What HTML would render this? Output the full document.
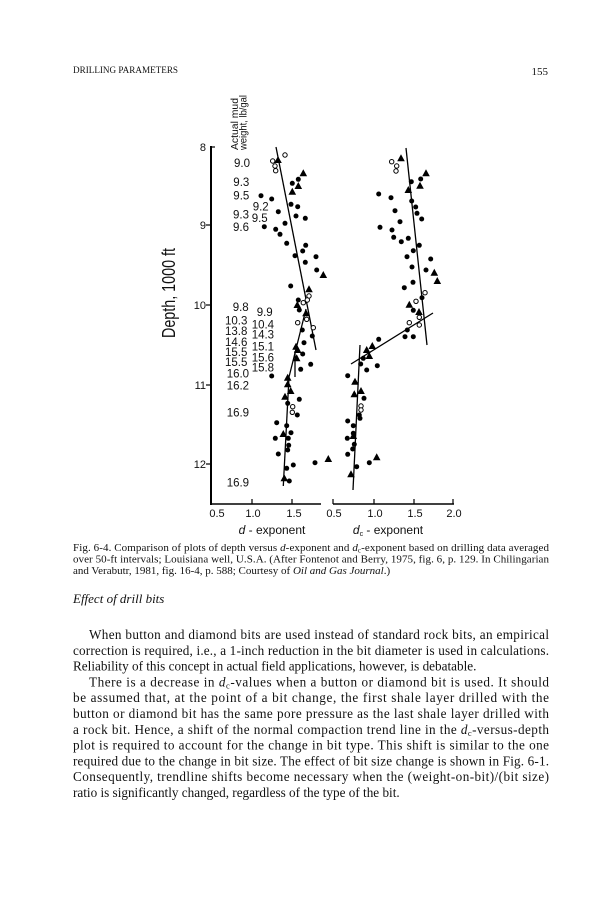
<!DOCTYPE html>
<html>
<head>
<meta charset="utf-8">
<style>
  html, body { margin: 0; padding: 0; background: #fff; }
  svg { display: block; }
  .sans { font-family: "Liberation Sans", Arial, sans-serif; fill: #111; }
  .serif { font-family: "Liberation Serif", "Times New Roman", serif; fill: #111; }
</style>
</head>
<body>
<svg width="615" height="900" viewBox="0 0 615 900" xmlns="http://www.w3.org/2000/svg">
  <rect x="0" y="0" width="615" height="900" fill="#fff"/>

  <!-- Header -->
  <text class="serif" x="73" y="73" font-size="9" textLength="105" lengthAdjust="spacingAndGlyphs">DRILLING PARAMETERS</text>
  <text class="serif" x="548" y="75" font-size="11" text-anchor="end">155</text>

  <!-- Rotated axis labels -->
  <text class="sans" transform="translate(175,293) rotate(-90)" font-size="18" text-anchor="middle" textLength="90" lengthAdjust="spacingAndGlyphs">Depth, 1000 ft</text>
  <text class="sans" transform="translate(238,124) rotate(-90)" font-size="10" text-anchor="middle" textLength="52" lengthAdjust="spacingAndGlyphs">Actual mud</text>
  <text class="sans" transform="translate(246.5,122.5) rotate(-90)" font-size="10" text-anchor="middle" textLength="55" lengthAdjust="spacingAndGlyphs">weight, lb/gal</text>

  <!-- Axes -->
  <g stroke="#000" fill="none">
    <line x1="211" y1="146" x2="211" y2="505" stroke-width="2"/>
    <line x1="211" y1="147" x2="215" y2="147" stroke-width="1.2"/>
    <line x1="206" y1="225" x2="211" y2="225" stroke-width="1.2"/>
    <line x1="206" y1="305" x2="211" y2="305" stroke-width="1.2"/>
    <line x1="206" y1="385" x2="211" y2="385" stroke-width="1.2"/>
    <line x1="206" y1="464" x2="211" y2="464" stroke-width="1.2"/>
    <line x1="210" y1="504" x2="321" y2="504" stroke-width="1.5"/>
    <line x1="252" y1="499" x2="252" y2="504" stroke-width="1.2"/>
    <line x1="292" y1="499" x2="292" y2="504" stroke-width="1.2"/>
    <line x1="333" y1="504" x2="454" y2="504" stroke-width="1.5"/>
    <line x1="333" y1="499" x2="333" y2="504" stroke-width="1.2"/>
    <line x1="374" y1="499" x2="374" y2="504" stroke-width="1.2"/>
    <line x1="414" y1="499" x2="414" y2="504" stroke-width="1.2"/>
    <line x1="453" y1="499" x2="453" y2="504" stroke-width="1.2"/>
  </g>

  <!-- Y tick labels -->
  <g class="sans" font-size="11" text-anchor="end">
    <text x="206" y="151">8</text>
    <text x="206" y="229">9</text>
    <text x="206" y="309">10</text>
    <text x="206" y="389">11</text>
    <text x="206" y="468">12</text>
  </g>

  <!-- X tick labels -->
  <g class="sans" font-size="11" text-anchor="middle">
    <text x="217" y="517">0.5</text>
    <text x="253" y="517">1.0</text>
    <text x="294" y="517">1.5</text>
    <text x="334" y="517">0.5</text>
    <text x="375" y="517">1.0</text>
    <text x="415" y="517">1.5</text>
    <text x="454" y="517">2.0</text>
  </g>

  <!-- X axis titles -->
  <text class="sans" x="272" y="534" font-size="12" text-anchor="middle"><tspan font-style="italic">d</tspan> - exponent</text>
  <text class="sans" x="388" y="534" font-size="12" text-anchor="middle"><tspan font-style="italic">d</tspan><tspan font-size="7" dy="2">c</tspan><tspan dy="-2"> - exponent</tspan></text>

  <!-- Mud weight labels -->
  <g class="sans" font-size="11.5">
    <text x="234" y="167">9.0</text>
    <text x="233.3" y="186">9.3</text>
    <text x="233.3" y="199.3">9.5</text>
    <text x="252.7" y="210.3">9.2</text>
    <text x="233" y="218.6">9.3</text>
    <text x="251.7" y="222">9.5</text>
    <text x="233" y="231">9.6</text>
    <text x="232.7" y="311">9.8</text>
    <text x="256.7" y="316">9.9</text>
    <text x="225" y="324.3">10.3</text>
    <text x="251.7" y="328.6">10.4</text>
    <text x="225" y="335">13.8</text>
    <text x="251.7" y="338.6">14.3</text>
    <text x="225" y="346">14.6</text>
    <text x="251.7" y="350.3">15.1</text>
    <text x="225" y="356">15.5</text>
    <text x="251.7" y="361.6">15.6</text>
    <text x="225" y="366">15.5</text>
    <text x="251.7" y="371.6">15.8</text>
    <text x="226.7" y="377.6">16.0</text>
    <text x="226.7" y="389.3">16.2</text>
    <text x="226.7" y="416.6">16.9</text>
    <text x="226.7" y="486.6">16.9</text>
  </g>

  <!-- Trend lines -->
  <g stroke="#000" stroke-width="1.3" fill="none">
    <line x1="276" y1="147" x2="316" y2="350"/>
    <line x1="283.3" y1="486" x2="289" y2="377"/>
    <line x1="289" y1="377" x2="306" y2="309"/>
    <line x1="295" y1="351" x2="295" y2="377"/>
    <line x1="406" y1="148" x2="427" y2="345"/>
    <line x1="351" y1="364" x2="433" y2="313"/>
    <line x1="360" y1="345" x2="353" y2="490"/>
  </g>

  <!-- Filled dots -->
  <g fill="#000">
    <!-- left panel -->
    <circle cx="292.3" cy="183.3" r="2.5"/><circle cx="298.3" cy="179.3" r="2.5"/>
    <circle cx="261" cy="195.7" r="2.5"/><circle cx="271.7" cy="199" r="2.5"/>
    <circle cx="291" cy="204.3" r="2.5"/><circle cx="297.7" cy="206.7" r="2.5"/>
    <circle cx="278.3" cy="211.7" r="2.5"/><circle cx="296" cy="216" r="2.5"/>
    <circle cx="305.3" cy="218.3" r="2.5"/><circle cx="264.3" cy="226.7" r="2.5"/>
    <circle cx="285" cy="223.3" r="2.5"/><circle cx="275.7" cy="229.3" r="2.5"/>
    <circle cx="280" cy="234.3" r="2.5"/><circle cx="286.7" cy="243.3" r="2.5"/>
    <circle cx="305.7" cy="245.3" r="2.5"/><circle cx="302.7" cy="251" r="2.5"/>
    <circle cx="295" cy="255.7" r="2.5"/><circle cx="316" cy="256.7" r="2.5"/>
    <circle cx="305.3" cy="262.3" r="2.5"/><circle cx="316.7" cy="270" r="2.5"/>
    <circle cx="290.7" cy="286" r="2.5"/><circle cx="298.3" cy="300" r="2.5"/>
    <circle cx="299.3" cy="310" r="2.5"/><circle cx="302.3" cy="330" r="2.5"/>
    <circle cx="312.3" cy="336" r="2.5"/><circle cx="304" cy="342.7" r="2.5"/>
    <circle cx="302.7" cy="354" r="2.5"/><circle cx="310.7" cy="364.3" r="2.5"/>
    <circle cx="300.7" cy="369.3" r="2.5"/><circle cx="271.7" cy="376" r="2.5"/>
    <circle cx="299.3" cy="399.3" r="2.5"/><circle cx="287.7" cy="403.3" r="2.5"/>
    <circle cx="297.3" cy="415" r="2.5"/><circle cx="276.7" cy="422.7" r="2.5"/>
    <circle cx="286.7" cy="425.7" r="2.5"/><circle cx="291" cy="432.7" r="2.5"/>
    <circle cx="288.3" cy="438.3" r="2.5"/><circle cx="275.3" cy="438.3" r="2.5"/>
    <circle cx="278.3" cy="454" r="2.5"/><circle cx="288.7" cy="445.3" r="2.5"/>
    <circle cx="287.7" cy="450" r="2.5"/><circle cx="293.3" cy="465" r="2.5"/>
    <circle cx="286.7" cy="468.3" r="2.5"/><circle cx="315" cy="462.7" r="2.5"/>
    <circle cx="289.3" cy="481" r="2.5"/>
    <!-- right panel -->
    <circle cx="420.7" cy="179" r="2.5"/><circle cx="411.3" cy="181.7" r="2.5"/>
    <circle cx="378.7" cy="194" r="2.5"/><circle cx="391" cy="197.7" r="2.5"/>
    <circle cx="411.7" cy="201" r="2.5"/><circle cx="415.7" cy="207" r="2.5"/>
    <circle cx="395" cy="210.7" r="2.5"/><circle cx="417" cy="213.3" r="2.5"/>
    <circle cx="421.7" cy="219" r="2.5"/><circle cx="400" cy="221.7" r="2.5"/>
    <circle cx="380" cy="227.3" r="2.5"/><circle cx="392" cy="230" r="2.5"/>
    <circle cx="393.7" cy="237.3" r="2.5"/><circle cx="408.3" cy="238.3" r="2.5"/>
    <circle cx="401.3" cy="241.7" r="2.5"/><circle cx="419.3" cy="245.3" r="2.5"/>
    <circle cx="413.3" cy="250.7" r="2.5"/><circle cx="407" cy="256.7" r="2.5"/>
    <circle cx="430.7" cy="259" r="2.5"/><circle cx="412" cy="267" r="2.5"/>
    <circle cx="426" cy="270" r="2.5"/><circle cx="413" cy="282.3" r="2.5"/>
    <circle cx="404.3" cy="287.7" r="2.5"/><circle cx="422" cy="297.7" r="2.5"/>
    <circle cx="413.3" cy="310.3" r="2.5"/><circle cx="407.3" cy="330" r="2.5"/>
    <circle cx="405" cy="336.7" r="2.5"/><circle cx="413.3" cy="336.7" r="2.5"/>
    <circle cx="378.7" cy="339.3" r="2.5"/><circle cx="363.3" cy="358.3" r="2.5"/>
    <circle cx="360.7" cy="364" r="2.5"/><circle cx="377.3" cy="365.7" r="2.5"/>
    <circle cx="366.7" cy="370" r="2.5"/><circle cx="347.7" cy="375.7" r="2.5"/>
    <circle cx="364" cy="398.3" r="2.5"/><circle cx="359.3" cy="415" r="2.5"/>
    <circle cx="360" cy="418.3" r="2.5"/><circle cx="347.7" cy="421" r="2.5"/>
    <circle cx="353.3" cy="425.7" r="2.5"/><circle cx="353.3" cy="433.3" r="2.5"/>
    <circle cx="347.3" cy="438.3" r="2.5"/><circle cx="354.3" cy="444.3" r="2.5"/>
    <circle cx="352.7" cy="449" r="2.5"/><circle cx="347.7" cy="454.3" r="2.5"/>
    <circle cx="369.3" cy="462.7" r="2.5"/><circle cx="356.7" cy="466.7" r="2.5"/>
  </g>

  <!-- Triangles -->
  <path fill="#000" d="
    M278,160m0,-4l3.8,7h-7.6z
    M303.3,173.3m0,-4l3.8,7h-7.6z
    M298.3,186m0,-4l3.8,7h-7.6z
    M292.3,191.7m0,-4l3.8,7h-7.6z
    M323.3,275m0,-4l3.8,7h-7.6z
    M309,289.3m0,-4l3.8,7h-7.6z
    M297.3,305m0,-4l3.8,7h-7.6z
    M306,313.3m0,-4l3.8,7h-7.6z
    M296,346.7m0,-4l3.8,7h-7.6z
    M297.7,350m0,-4l3.8,7h-7.6z
    M296.7,358.3m0,-4l3.8,7h-7.6z
    M287.7,377.7m0,-4l3.8,7h-7.6z
    M287.7,384.3m0,-4l3.8,7h-7.6z
    M290.7,391m0,-4l3.8,7h-7.6z
    M285,396.7m0,-4l3.8,7h-7.6z
    M283.3,434m0,-4l3.8,7h-7.6z
    M328.3,459m0,-4l3.8,7h-7.6z
    M284.3,478.3m0,-4l3.8,7h-7.6z
    M401,158.3m0,-4l3.8,7h-7.6z
    M426,173.3m0,-4l3.8,7h-7.6z
    M420,185.7m0,-4l3.8,7h-7.6z
    M408.3,190m0,-4l3.8,7h-7.6z
    M434.3,272.7m0,-4l3.8,7h-7.6z
    M437.3,281m0,-4l3.8,7h-7.6z
    M409.3,304.7m0,-4l3.8,7h-7.6z
    M419,312m0,-4l3.8,7h-7.6z
    M372.3,346m0,-4l3.8,7h-7.6z
    M366.7,350m0,-4l3.8,7h-7.6z
    M369.3,356m0,-4l3.8,7h-7.6z
    M355,381.7m0,-4l3.8,7h-7.6z
    M361,391m0,-4l3.8,7h-7.6z
    M354.3,394.3m0,-4l3.8,7h-7.6z
    M353.3,436m0,-4l3.8,7h-7.6z
    M376.7,457.3m0,-4l3.8,7h-7.6z
    M351,474.3m0,-4l3.8,7h-7.6z
  "/>

  <!-- Open circles -->
  <g fill="#fff" stroke="#000" stroke-width="1">
    <circle cx="272.7" cy="161" r="2.2"/><circle cx="275" cy="166" r="2.2"/>
    <circle cx="275.7" cy="170.7" r="2.2"/><circle cx="285" cy="155" r="2.2"/>
    <circle cx="309" cy="296" r="2.2"/><circle cx="307.3" cy="300" r="2.2"/>
    <circle cx="303.3" cy="302.7" r="2.2"/><circle cx="306.7" cy="319.3" r="2.2"/>
    <circle cx="297.7" cy="322.7" r="2.2"/><circle cx="313.3" cy="327.7" r="2.2"/>
    <circle cx="292.7" cy="406.7" r="2.2"/><circle cx="292.3" cy="412.3" r="2.2"/>
    <circle cx="391.7" cy="161.7" r="2.2"/><circle cx="396.7" cy="166" r="2.2"/>
    <circle cx="396" cy="171" r="2.2"/><circle cx="425" cy="292.7" r="2.2"/>
    <circle cx="416" cy="301.3" r="2.2"/><circle cx="419.3" cy="317.3" r="2.2"/>
    <circle cx="409.3" cy="322.7" r="2.2"/><circle cx="419.3" cy="325" r="2.2"/>
    <circle cx="361" cy="406" r="2.2"/><circle cx="361" cy="410" r="2.2"/>
  </g>

  <!-- Caption -->
  <g class="serif" font-size="11">
    <text x="73" y="551" textLength="476" lengthAdjust="spacing">Fig. 6-4. Comparison of plots of depth versus <tspan font-style="italic">d</tspan>-exponent and <tspan font-style="italic">d</tspan><tspan font-size="7" dy="1.5">c</tspan><tspan dy="-1.5">-exponent based on drilling data averaged</tspan></text>
    <text x="73" y="562.5" textLength="476" lengthAdjust="spacing">over 50-ft intervals; Louisiana well, U.S.A. (After Fontenot and Berry, 1975, fig. 6, p. 129. In Chilingarian</text>
    <text x="73" y="574">and Verabutr, 1981, fig. 16-4, p. 588; Courtesy of <tspan font-style="italic">Oil and Gas Journal</tspan>.)</text>
  </g>

  <!-- Section heading -->
  <text class="serif" x="73" y="603" font-size="13" font-style="italic">Effect of drill bits</text>

  <!-- Body text -->
  <g class="serif" font-size="13.2">
    <text x="89" y="639" textLength="460" lengthAdjust="spacing">When button and diamond bits are used instead of standard rock bits, an empirical</text>
    <text x="73" y="654.8" textLength="476" lengthAdjust="spacing">correction is required, i.e., a 1-inch reduction in the bit diameter is used in calculations.</text>
    <text x="73" y="670.6">Reliability of this concept in actual field applications, however, is debatable.</text>
    <text x="89" y="686.4" textLength="460" lengthAdjust="spacing">There is a decrease in <tspan font-style="italic">d</tspan><tspan font-size="8.5" dy="2">c</tspan><tspan dy="-2">-values when a button or diamond bit is used. It should</tspan></text>
    <text x="73" y="702.2" textLength="476" lengthAdjust="spacing">be assumed that, at the point of a bit change, the first shale layer drilled with the</text>
    <text x="73" y="718" textLength="476" lengthAdjust="spacing">button or diamond bit has the same pore pressure as the last shale layer drilled with</text>
    <text x="73" y="733.8" textLength="476" lengthAdjust="spacing">a rock bit. Hence, a shift of the normal compaction trend line in the <tspan font-style="italic">d</tspan><tspan font-size="8.5" dy="2">c</tspan><tspan dy="-2">-versus-depth</tspan></text>
    <text x="73" y="749.6" textLength="476" lengthAdjust="spacing">plot is required to account for the change in bit type. This shift is similar to the one</text>
    <text x="73" y="765.4" textLength="476" lengthAdjust="spacing">required due to the change in bit size. The effect of bit size change is shown in Fig. 6-1.</text>
    <text x="73" y="781.2" textLength="476" lengthAdjust="spacing">Consequently, trendline shifts become necessary when the (weight-on-bit)/(bit size)</text>
    <text x="73" y="797">ratio is significantly changed, regardless of the type of the bit.</text>
  </g>
</svg>
</body>
</html>
